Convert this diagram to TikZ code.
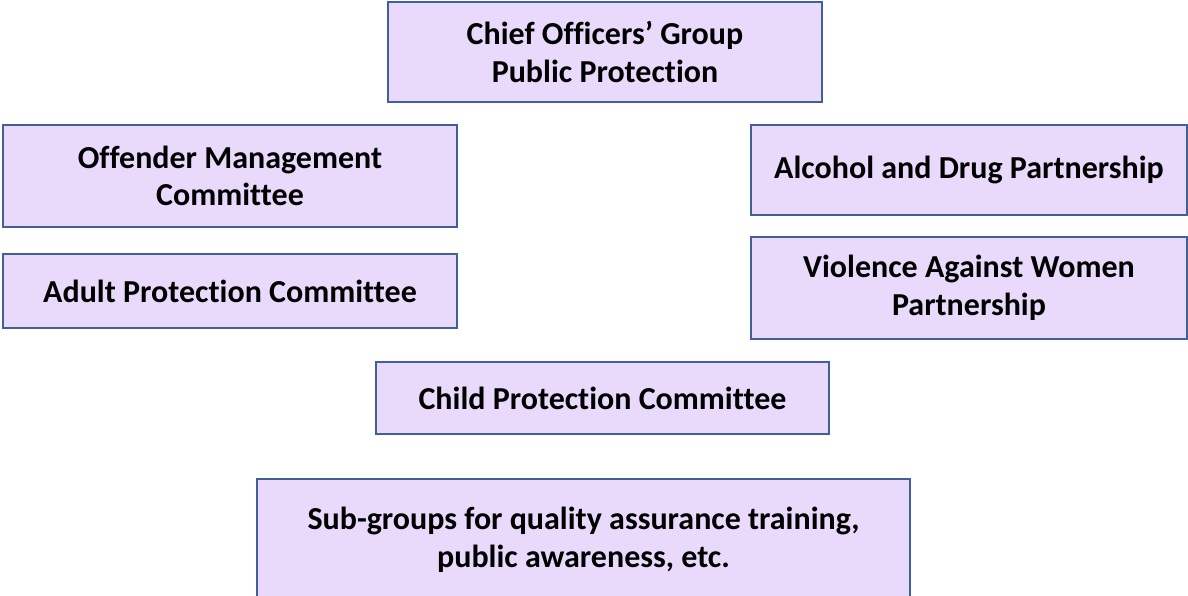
\documentclass[tikz,border=0pt]{standalone}
\usepackage{fontspec}
\setmainfont{Carlito}[Ligatures=NoCommon]
\definecolor{boxfill}{HTML}{E9DAFC}
\definecolor{boxline}{HTML}{41609A}
\begin{document}
\begin{tikzpicture}[x=1pt,y=-1pt,
  orgbox/.style={draw=boxline,fill=boxfill,line width=2pt,align=center,
    inner sep=0pt,font=\fontsize{32}{37.5}\selectfont\bfseries}]
\useasboundingbox (0,0) rectangle (1188,596);
\node[orgbox,minimum width=434pt,minimum height=100pt] (chief) at (605,52)
  {Chief Officers’ Group\\Public Protection};
\node[orgbox,minimum width=454pt,minimum height=102pt] (offender) at (230,176)
  {Offender Management\\Committee};
\node[orgbox,minimum width=454pt,minimum height=74pt] (adult) at (230,291)
  {Adult Protection Committee};
\node[orgbox,minimum width=436pt,minimum height=90pt] (alcohol) at (969,170)
  {Alcohol and Drug Partnership};
\node[orgbox,minimum width=436pt,minimum height=102pt] (violence) at (969,288)
  {Violence Against Women\\Partnership};
\node[orgbox,minimum width=453pt,minimum height=72pt] (child) at (602.5,398)
  {Child Protection Committee};
\node[orgbox,minimum width=653pt,minimum height=122pt] (sub) at (583.5,540)
  {Sub-groups for quality assurance training,\\public awareness, etc.};
\end{tikzpicture}
\end{document}
